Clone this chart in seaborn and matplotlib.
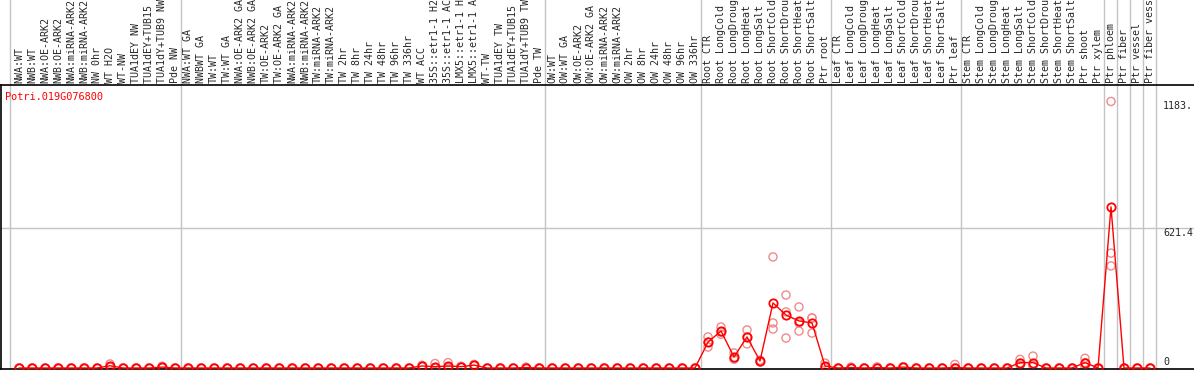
import numpy as np
import pandas as pd
import matplotlib
matplotlib.use("Agg")
import matplotlib.pyplot as plt
import seaborn as sns

# sample labels, per block
lab_nw = ["NWA:WT", "NWB:WT", "NWA:OE-ARK2", "NWB:OE-ARK2", "NWA:miRNA-ARK2", "NWB:miRNA-ARK2",
          "NW 0hr", "WT H2O", "WT-NW", "TUA1dEY NW", "TUA1dEY+TUB15 NW", "TUA1dY+TUB9 NW", "Pde NW"]
lab_tw = ["NWA:WT GA", "NWBWT GA", "TW:WT", "TW:WT GA", "NWA:OE-ARK2 GA", "NWB:OE-ARK2 GA",
          "TW:OE-ARK2", "TW:OE-ARK2 GA", "NWA:miRNA-ARK2", "NWB:miRNA-ARK2", "TW:miRNA-ARK2",
          "TW:miRNA-ARK2", "TW 2hr", "TW 8hr", "TW 24hr", "TW 48hr", "TW 96hr", "TW 336hr",
          "WT ACC", "35S::etr1-1 H2O", "35S::etr1-1 ACC", "LMX5::etr1-1 H2O", "LMX5::etr1-1 ACC",
          "WT-TW", "TUA1dEY TW", "TUA1dEY+TUB15 TW", "TUA1dY+TUB9 TW", "Pde TW"]
lab_ow = ["OW:WT", "OW:WT GA", "OW:OE-ARK2", "OW:OE-ARK2 GA", "OW:miRNA-ARK2", "OW:miRNA-ARK2",
          "OW 2hr", "OW 8hr", "OW 24hr", "OW 48hr", "OW 96hr", "OW 336hr"]
lab_root = ["Root CTR", "Root LongCold", "Root LongDrought", "Root LongHeat", "Root LongSalt",
            "Root ShortCold", "Root ShortDrought", "Root ShortHeat", "Root ShortSalt", "Ptr root"]
lab_leaf = ["Leaf CTR", "Leaf LongCold", "Leaf LongDrought", "Leaf LongHeat", "Leaf LongSalt",
            "Leaf ShortCold", "Leaf ShortDrought", "Leaf ShortHeat", "Leaf ShortSalt", "Ptr leaf"]
lab_stem = ["Stem CTR", "Stem LongCold", "Stem LongDrought", "Stem LongHeat", "Stem LongSalt",
            "Stem ShortCold", "Stem ShortDrought", "Stem ShortHeat", "Stem ShortSalt", "Ptr shoot",
            "Ptr xylem"]
lab_ptr = ["Ptr phloem", "Ptr fiber", "Ptr vessel", "Ptr fiber vessel"]

# mean expression per sample
mean_nw = [0, 0, 0, 0, 0, 0, 0, 10, 0, 0, 0, 4, 0]
mean_tw = [0, 0, 0, 0, 0, 0, 0, 0, 0, 0, 0, 0, 0, 0, 0, 0, 0, 0,
           9, 6, 9, 6, 13, 0, 0, 0, 2, 0]
mean_ow = [0, 0, 0, 0, 0, 0, 0, 0, 0, 0, 0, 0]
mean_root = [115, 164, 49, 138, 31, 289, 235, 209, 200, 9]
mean_leaf = [0, 2, 0, 2, 0, 4, 0, 0, 0, 2]
mean_stem = [0, 0, 0, 0, 24, 24, 0, 0, 0, 24, 0]
mean_ptr = [715, 0, 0, 0]

# replicates (3 per sample)
rep1_nw = [0, 0, 0, 0, 0, 0, 0, 18, 0, 0, 0, 8, 0]
rep2_nw = [0, 0, 0, 0, 0, 0, 0, 6, 0, 0, 0, 3, 0]
rep3_nw = [0, 0, 0, 0, 0, 0, 0, 4, 0, 0, 0, 1, 0]
rep1_tw = [0, 0, 0, 0, 0, 0, 0, 0, 0, 0, 0, 0, 0, 0, 0, 0, 0, 0,
           12, 20, 24, 8, 16, 0, 0, 0, 4, 0]
rep2_tw = [0, 0, 0, 0, 0, 0, 0, 0, 0, 0, 0, 0, 0, 0, 0, 0, 0, 0,
           9, 0, 3, 6, 13, 0, 0, 0, 2, 0]
rep3_tw = [0, 0, 0, 0, 0, 0, 0, 0, 0, 0, 0, 0, 0, 0, 0, 0, 0, 0,
           6, 0, 0, 4, 10, 0, 0, 0, 0, 0]
rep1_ow = [0, 0, 0, 0, 0, 0, 0, 0, 0, 0, 0, 0]
rep2_ow = [0, 0, 0, 0, 0, 0, 0, 0, 0, 0, 0, 0]
rep3_ow = [0, 0, 0, 0, 0, 0, 0, 0, 0, 0, 0, 0]
rep1_root = [138, 182, 67, 169, 35, 493, 324, 271, 222, 22]
rep2_root = [115, 160, 40, 138, 31, 200, 249, 200, 222, 3]
rep3_root = [93, 150, 40, 107, 27, 173, 133, 164, 155, 2]
rep1_leaf = [0, 4, 0, 5, 0, 6, 0, 0, 0, 16]
rep2_leaf = [0, 2, 0, 1, 0, 4, 0, 0, 0, 0]
rep3_leaf = [0, 0, 0, 0, 0, 2, 0, 0, 0, 0]
rep1_stem = [0, 0, 0, 0, 38, 53, 0, 0, 0, 43, 0]
rep2_stem = [0, 0, 0, 0, 22, 12, 0, 0, 0, 24, 0]
rep3_stem = [0, 0, 0, 0, 12, 8, 0, 0, 0, 5, 0]
rep1_ptr = [1183, 0, 0, 0]
rep2_ptr = [510, 0, 0, 0]
rep3_ptr = [453, 0, 0, 0]

gene = "Potri.019G076800"
ytick_vals = [1183, 621.4, 0]
ytick_text = ["1183.", "621.4", "0"]

blocks = [lab_nw, lab_tw, lab_ow, lab_root, lab_leaf, lab_stem]
labels = sum(blocks, []) + lab_ptr
means = mean_nw + mean_tw + mean_ow + mean_root + mean_leaf + mean_stem + mean_ptr
rep1 = rep1_nw + rep1_tw + rep1_ow + rep1_root + rep1_leaf + rep1_stem + rep1_ptr
rep2 = rep2_nw + rep2_tw + rep2_ow + rep2_root + rep2_leaf + rep2_stem + rep2_ptr
rep3 = rep3_nw + rep3_tw + rep3_ow + rep3_root + rep3_leaf + rep3_stem + rep3_ptr

pos = np.arange(len(labels))
df_mean = pd.DataFrame({"pos": pos, "val": means})
df_rep = pd.DataFrame({"pos": np.tile(pos, 3), "val": rep1 + rep2 + rep3})

sns.set_theme(style="white")
plt.rcParams["font.family"] = ["DejaVu Sans Mono"]

fig = plt.figure(figsize=(11.94, 3.70), dpi=100)
ax = fig.add_axes([1 / 1194, 1 / 370, 1193 / 1194, 284 / 370])

# group separators (run through the label area too)
edges = [-0.7]
n = 0
for b in blocks:
    n += len(b)
    edges.append(n - 0.55)
for k in range(len(lab_ptr)):
    edges.append(n + k + 0.45)
top_ext = 1 + 85 / 284
for e in edges:
    ax.axvline(e, ymin=0, ymax=top_ext, color="#c4c4c4", lw=1, clip_on=False, zorder=0)
ax.axhline(ytick_vals[1], color="#c4c4c4", lw=1, zorder=0)

sns.scatterplot(data=df_rep, x="pos", y="val", ax=ax, marker="o", s=34,
                facecolors="none", edgecolor="#f08a8a", linewidth=1.0, zorder=2, legend=False)
sns.lineplot(data=df_mean, x="pos", y="val", ax=ax, color="red", lw=1.0, sort=False,
             marker="o", markersize=6, markerfacecolor="none", markeredgecolor="red",
             markeredgewidth=1.3, zorder=3, legend=False)

ax.set_xlim(-18 / 13, 1175 / 13)
ax.set_ylim(-4.4, 1256)

ax.xaxis.tick_top()
ax.set_xticks(pos)
ax.set_xticklabels(labels, rotation=90, fontsize=7.2, va="bottom", ha="center")
ax.tick_params(axis="x", length=0, pad=1.5)
ax.set_yticks([])
ax.set_xlabel("")
ax.set_ylabel("")

for s in ["left", "top", "bottom"]:
    ax.spines[s].set_color("black")
    ax.spines[s].set_linewidth(1.2)
ax.spines["right"].set_visible(False)

# value labels on the right
xr = 1144 / 13
ax.text(xr, ytick_vals[0], ytick_text[0], fontsize=7.2, va="top", ha="left")
ax.text(xr, ytick_vals[1], ytick_text[1], fontsize=7.2, va="top", ha="left")
ax.text(xr, ytick_vals[2] + 6, ytick_text[2], fontsize=7.2, va="bottom", ha="left")

ax.text(4 / 1193, 1 - 12 / 284, gene, transform=ax.transAxes, color="red",
        fontsize=7.4, va="center", ha="left")

fig.savefig("out.png", dpi=100)
